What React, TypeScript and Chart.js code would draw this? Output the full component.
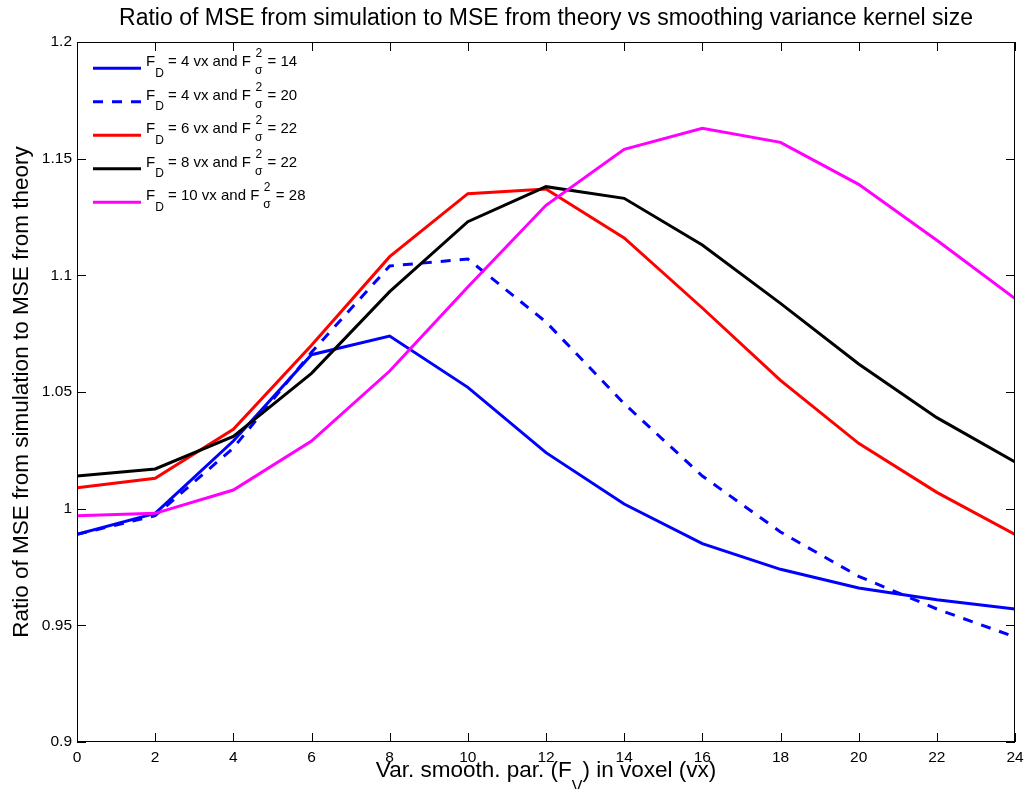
import React, { useEffect, useRef } from 'react';
import { Chart, registerables } from 'chart.js';

Chart.register(...registerables);

// ---- data ----
const xValues = [0, 2, 4, 6, 8, 10, 12, 14, 16, 18, 20, 22, 24];
const xTicks = [0, 2, 4, 6, 8, 10, 12, 14, 16, 18, 20, 22, 24];
const yTicks = [0.9, 0.95, 1, 1.05, 1.1, 1.15, 1.2];

const fD = [4, 4, 6, 8, 10];
const fSigma2 = [14, 20, 22, 22, 28];

const seriesFD4S14 = [0.989, 0.998, 1.029, 1.066, 1.074, 1.052, 1.024, 1.002, 0.985, 0.974, 0.966, 0.961, 0.957];
const seriesFD4S20 = [0.989, 0.997, 1.026, 1.067, 1.104, 1.107, 1.080, 1.045, 1.014, 0.990, 0.971, 0.957, 0.945];
const seriesFD6S22 = [1.009, 1.013, 1.034, 1.070, 1.108, 1.135, 1.137, 1.116, 1.086, 1.055, 1.028, 1.007, 0.989];
const seriesFD8S22 = [1.014, 1.017, 1.031, 1.058, 1.093, 1.123, 1.138, 1.133, 1.113, 1.088, 1.062, 1.039, 1.020];
const seriesFD10S28 = [0.997, 0.998, 1.008, 1.029, 1.059, 1.095, 1.130, 1.154, 1.163, 1.157, 1.139, 1.115, 1.090];

const allSeries = [seriesFD4S14, seriesFD4S20, seriesFD6S22, seriesFD8S22, seriesFD10S28];
const seriesColors = ['#0000ff', '#0000ff', '#ff0000', '#000000', '#ff00ff'];
const seriesDashes: number[][] = [[], [10, 9], [], [], []];

const titleText = 'Ratio of MSE from simulation to MSE from theory vs smoothing variance kernel size';
const yTitleText = 'Ratio of MSE from simulation to MSE from theory';
const xTitleParts = ['Var. smooth. par. (F', 'V', ') in voxel (vx)'];

const FONT = '"Liberation Sans", Arial, Helvetica, sans-serif';

const decorPlugin = {
  id: 'matlabDecor',
  afterDraw(chart: any) {
    const ctx: CanvasRenderingContext2D = chart.ctx;
    const { left, right, top, bottom } = chart.chartArea;
    ctx.save();
    ctx.setLineDash([]);
    ctx.strokeStyle = '#000';
    ctx.lineWidth = 1;
    // box
    ctx.strokeRect(left + 0.5, top + 0.5, right - left - 1, bottom - top - 1);
    // inward ticks
    const tl = 9;
    const xs = chart.scales.x;
    const ys = chart.scales.y;
    ctx.beginPath();
    xs.ticks.forEach((t: any) => {
      const px = Math.round(xs.getPixelForValue(t.value)) + 0.5;
      ctx.moveTo(px, bottom);
      ctx.lineTo(px, bottom - tl);
      ctx.moveTo(px, top);
      ctx.lineTo(px, top + tl);
    });
    ys.ticks.forEach((t: any) => {
      const py = Math.round(ys.getPixelForValue(t.value)) + 0.5;
      ctx.moveTo(left, py);
      ctx.lineTo(left + tl, py);
      ctx.moveTo(right, py);
      ctx.lineTo(right - tl, py);
    });
    ctx.stroke();

    ctx.fillStyle = '#000';
    // title
    ctx.font = `23px ${FONT}`;
    ctx.textAlign = 'center';
    ctx.textBaseline = 'alphabetic';
    ctx.fillText(titleText, (left + right) / 2, 25);

    // x title with subscript
    const mainF = `22.5px ${FONT}`;
    const subF = `16px ${FONT}`;
    ctx.textAlign = 'left';
    ctx.font = mainF;
    const w0 = ctx.measureText(xTitleParts[0]).width;
    const w2 = ctx.measureText(xTitleParts[2]).width;
    ctx.font = subF;
    const w1 = ctx.measureText(xTitleParts[1]).width;
    let xx = (left + right) / 2 - (w0 + w1 + w2) / 2;
    const xb = 777;
    ctx.font = mainF;
    ctx.fillText(xTitleParts[0], xx, xb);
    xx += w0;
    ctx.font = subF;
    ctx.fillText(xTitleParts[1], xx, xb + 15);
    xx += w1;
    ctx.font = mainF;
    ctx.fillText(xTitleParts[2], xx, xb);

    // y title
    ctx.save();
    ctx.translate(28, (top + bottom) / 2);
    ctx.rotate(-Math.PI / 2);
    ctx.textAlign = 'center';
    ctx.font = mainF;
    ctx.fillText(yTitleText, 0, 0);
    ctx.restore();

    // legend
    const rowY0 = 68.3;
    const rowStep = 33.5;
    const lf = `15px ${FONT}`;
    const sf = `12px ${FONT}`;
    for (let i = 0; i < allSeries.length; i++) {
      const y = rowY0 + i * rowStep;
      ctx.beginPath();
      ctx.setLineDash(seriesDashes[i]);
      ctx.strokeStyle = seriesColors[i];
      ctx.lineWidth = 3;
      ctx.lineCap = 'butt';
      ctx.moveTo(93, y);
      ctx.lineTo(141, y);
      ctx.stroke();
      ctx.setLineDash([]);
      ctx.fillStyle = '#000';
      ctx.textAlign = 'left';
      const base = y - 2.3;
      let x = 146;
      ctx.font = lf;
      ctx.fillText('F', x, base);
      x += ctx.measureText('F').width;
      ctx.font = sf;
      ctx.fillText('D', x, base + 10.5);
      x += ctx.measureText('D').width;
      ctx.font = lf;
      const mid = ` = ${fD[i]} vx and F`;
      ctx.fillText(mid, x, base);
      x += ctx.measureText(mid).width + 4;
      ctx.font = sf;
      ctx.fillText('2', x + 0.5, base - 9);
      ctx.fillText('σ', x, base + 8);
      x += Math.max(ctx.measureText('2').width, ctx.measureText('σ').width) + 1;
      ctx.font = lf;
      ctx.fillText(` = ${fSigma2[i]}`, x, base);
    }
    ctx.restore();
  },
};

export default function App() {
  const canvasRef = useRef<HTMLCanvasElement | null>(null);

  useEffect(() => {
    if (!canvasRef.current) return;
    const n = allSeries.length;
    const chart = new Chart(canvasRef.current, {
      type: 'line',
      data: {
        datasets: allSeries.map((s, i) => ({
          label: `F_D = ${fD[i]} vx and F_sigma^2 = ${fSigma2[i]}`,
          data: s.map((v, k) => ({ x: xValues[k], y: v })),
          borderColor: seriesColors[i],
          backgroundColor: seriesColors[i],
          borderWidth: 3,
          borderDash: seriesDashes[i],
          borderCapStyle: 'butt',
          borderJoinStyle: 'miter',
          pointRadius: 0,
          tension: 0,
          fill: false,
          order: n - i,
        })),
      },
      options: {
        animation: false,
        responsive: false,
        devicePixelRatio: 1,
        layout: { padding: { left: 0, right: 10, top: 42, bottom: 0 } },
        plugins: {
          legend: { display: false },
          title: { display: false },
          tooltip: { enabled: false },
        },
        scales: {
          x: {
            type: 'linear',
            min: 0,
            max: 24,
            afterBuildTicks: (scale: any) => {
              scale.ticks = xTicks.map((v) => ({ value: v }));
            },
            afterFit: (scale: any) => {
              scale.height = 47;
              scale.paddingLeft = 0;
              scale.paddingRight = 0;
            },
            grid: { display: false, drawTicks: false },
            border: { display: false },
            ticks: {
              autoSkip: false,
              maxRotation: 0,
              padding: 6,
              color: '#000',
              font: { family: FONT, size: 15.5 },
              callback: (v: any) => String(v),
            },
          },
          y: {
            type: 'linear',
            min: 0.9,
            max: 1.2,
            afterBuildTicks: (scale: any) => {
              scale.ticks = yTicks.map((v) => ({ value: v }));
            },
            afterFit: (scale: any) => {
              scale.width = 77;
              scale.paddingTop = 0;
              scale.paddingBottom = 0;
            },
            grid: { display: false, drawTicks: false },
            border: { display: false },
            ticks: {
              autoSkip: false,
              padding: 5,
              color: '#000',
              font: { family: FONT, size: 15.5 },
              callback: (v: any) => String(Math.round(v * 100) / 100),
            },
          },
        },
      },
      plugins: [decorPlugin],
    } as any);
    return () => chart.destroy();
  }, []);

  return (
    <div style={{ position: 'fixed', left: 0, top: 0, width: 1025, height: 789, background: '#fff' }}>
      <canvas ref={canvasRef} width={1025} height={789} style={{ display: 'block', width: 1025, height: 789 }} />
    </div>
  );
}
